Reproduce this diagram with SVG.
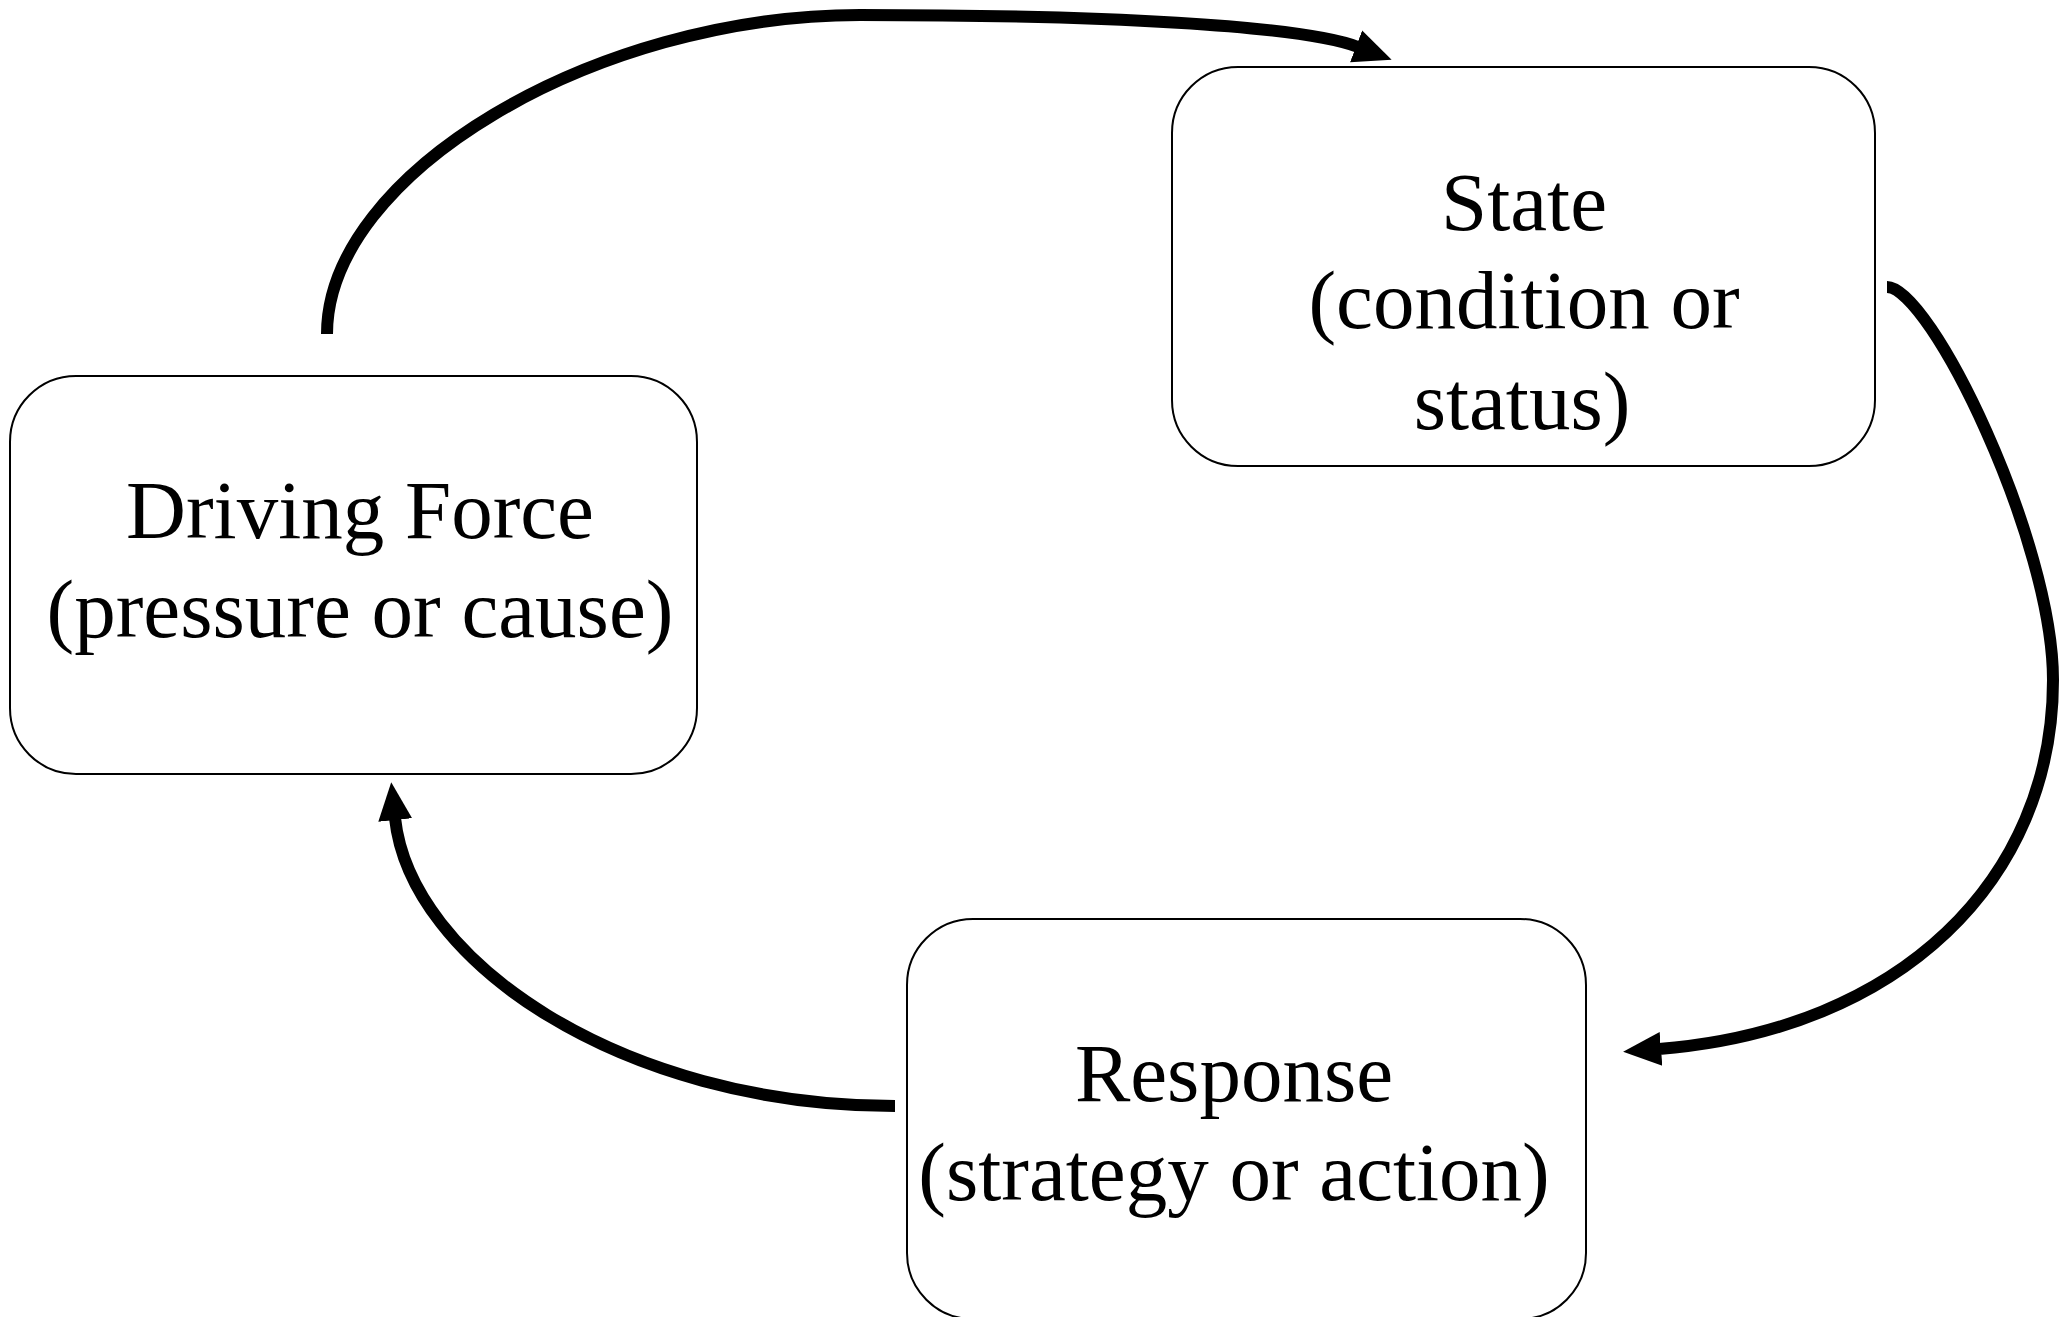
<svg xmlns="http://www.w3.org/2000/svg" width="2059" height="1317" viewBox="0 0 2059 1317">
  <style>
    .box { fill: #ffffff; stroke: #000000; stroke-width: 2; }
    .label { font-family: "Liberation Serif", "Times New Roman", serif; font-size: 83px; fill: #000000; text-anchor: middle; }
    .flow { fill: none; stroke: #000000; stroke-width: 12; stroke-linecap: butt; marker-end: url(#head); }
  </style>
  <defs>
    <marker id="head" markerUnits="userSpaceOnUse" markerWidth="40" markerHeight="40" viewBox="-2 -18 40 36" refX="0" refY="0" orient="auto">
      <path d="M-2,-17 L36,0 L-2,17 Z" fill="#000000"/>
    </marker>
  </defs>
  <rect width="2059" height="1317" fill="#ffffff"/>

  <!-- cycle arrows -->
  <g id="connectors">
    <path id="force-to-state" class="flow" d="M327,334 C327,174 594,15 860,15 C1100,15 1300,25 1358,47"/>
    <path id="state-to-response" class="flow" d="M1887,287 C1930,287 2053,540 2053,680 C2053,880 1900,1030 1659,1049"/>
    <path id="response-to-force" class="flow" d="M895,1106 C620,1106 410,960 395,818"/>
  </g>

  <g id="node-driving-force">
    <rect class="box" x="10" y="376" width="687" height="398" rx="66" ry="66"/>
    <text class="label" x="360" y="538">Driving Force</text>
    <text class="label" x="360" y="637">(pressure or cause)</text>
  </g>

  <g id="node-state">
    <rect class="box" x="1172" y="67" width="703" height="399" rx="66" ry="66"/>
    <text class="label" x="1524" y="230">State</text>
    <text class="label" x="1524" y="328">(condition or</text>
    <text class="label" x="1522" y="429">status)</text>
  </g>

  <g id="node-response">
    <rect class="box" x="907" y="919" width="679" height="400" rx="66" ry="66"/>
    <text class="label" x="1234" y="1101">Response</text>
    <text class="label" x="1234" y="1200">(strategy or action)</text>
  </g>
</svg>
